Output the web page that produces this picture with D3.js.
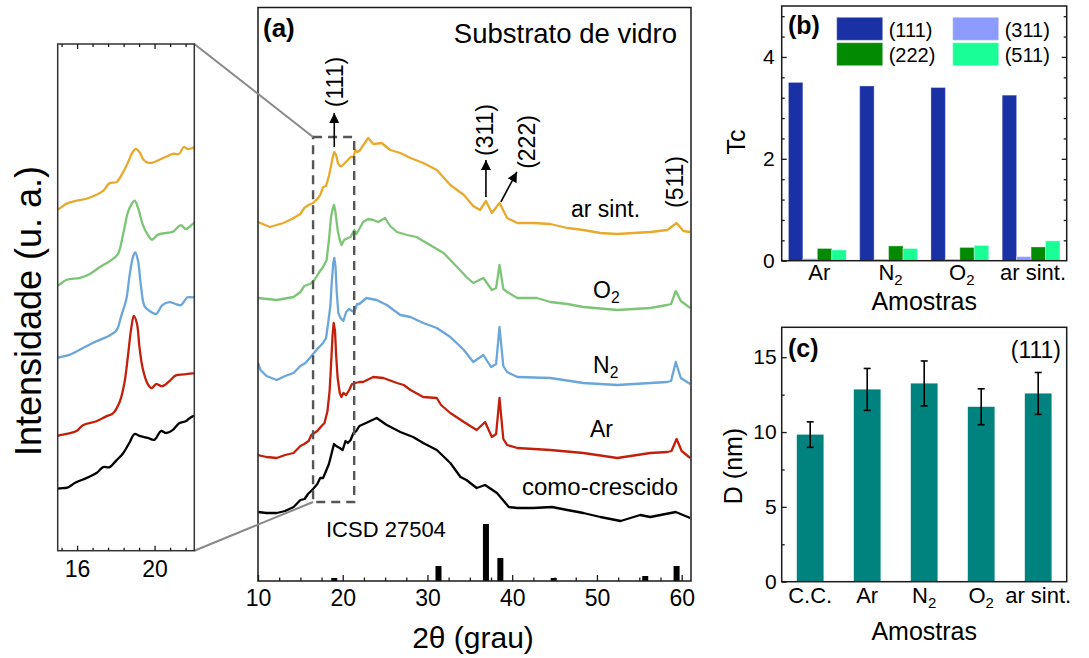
<!DOCTYPE html>
<html>
<head>
<meta charset="utf-8">
<script src="https://cdn.jsdelivr.net/npm/d3@7"></script>
<style>
  body { margin: 0; background: #fff; }
  svg text { font-family: "Liberation Sans", Arial, Helvetica, sans-serif; fill: #000; }
</style>
</head>
<body>
<svg id="fig" width="1089" height="658"></svg>
<script>
// ---------------------------------------------------------------
// XRD patterns: [2θ (deg), intensity (a.u.)], curves offset vertically
// ---------------------------------------------------------------
const xrdComoCrescido = [[10.0,69],[11.0,68],[12.2,68],[13.2,70],[14.2,74],[15.0,81],[15.5,82],[15.9,87],[16.5,92],[17.0,97],[17.34,103],[17.68,103],[18.03,110],[18.37,117],[18.7,128],[18.97,137],[19.22,135],[19.65,133],[19.99,131],[20.33,140],[20.6,138],[20.93,141],[21.27,148],[21.6,150],[21.96,155],[23.0,159],[24.0,163],[25.2,156],[26.8,149],[28.3,144],[29.5,138],[31.1,131],[32.7,118],[33.9,104],[34.6,101],[35.8,93],[36.8,96],[38.2,88],[39.6,74],[40.6,73],[42.5,73],[44.7,74],[46.5,71],[48.4,68],[50.4,64],[52.8,60],[55.1,66],[56.3,64],[59.3,69],[61.0,63]];

const xrdAr = [[10.0,126],[11.0,124],[12.2,123],[13.2,126],[14.2,128],[15.0,135],[15.46,137],[15.97,140],[16.3,146],[17.0,150],[17.5,155],[17.85,158],[18.2,170],[18.45,190],[18.62,216],[18.8,246],[18.93,258],[19.09,250],[19.22,226],[19.4,203],[19.65,188],[19.85,184],[20.08,188],[20.4,186],[20.76,191],[21.1,197],[21.5,198],[21.96,199],[22.4,199],[23.6,204],[24.8,203],[26.4,198],[27.2,196],[28.0,191],[29.5,184],[31.1,183],[31.6,176],[32.7,168],[34.3,159],[35.8,151],[36.8,159],[37.6,144],[38.1,147],[38.5,183],[38.95,142],[39.4,136],[40.6,133],[44.5,131],[48.4,128],[52.4,123],[56.3,128],[58.3,129],[58.8,130],[59.4,142],[60.0,130],[61.0,123]];

const xrdN2 = [[10.0,218],[10.3,211],[11.0,205],[12.2,201],[13.2,205],[14.2,208],[15.0,215],[15.6,218],[16.3,225],[17.0,232],[17.68,238],[18.03,243],[18.28,258],[18.54,275],[18.7,298],[18.88,318],[19.0,323],[19.14,315],[19.3,288],[19.48,268],[19.74,263],[20.08,260],[20.4,269],[20.76,272],[21.1,270],[21.36,269],[21.7,277],[21.96,277],[22.8,283],[24.0,281],[25.2,276],[26.8,266],[28.0,264],[29.5,258],[31.1,253],[32.7,244],[34.3,231],[35.4,219],[36.6,226],[37.5,214],[38.1,217],[38.5,254],[38.95,215],[39.4,209],[40.6,204],[44.5,203],[48.4,198],[52.4,196],[56.3,198],[58.3,199],[58.75,200],[59.3,219],[59.9,203],[61.0,197]];

const xrdO2 = [[10.0,283],[12.2,281],[14.2,284],[15.0,289],[15.46,295],[16.15,297],[16.66,301],[17.17,308],[17.68,314],[18.1,321],[18.37,341],[18.62,364],[18.8,372],[18.97,376],[19.14,369],[19.4,351],[19.65,341],[19.87,336],[20.16,341],[20.6,343],[20.93,344],[21.36,351],[21.6,347],[21.96,352],[22.4,359],[23.0,362],[23.6,361],[24.2,359],[25.0,363],[25.6,355],[26.4,349],[27.6,346],[28.7,344],[30.3,336],[31.9,328],[33.5,314],[34.6,304],[35.4,298],[36.6,303],[37.6,291],[38.1,293],[38.5,316],[38.95,292],[39.4,289],[40.6,283],[42.9,283],[44.5,279],[46.5,277],[48.4,274],[52.4,271],[56.3,273],[58.3,276],[58.75,277],[59.3,290],[59.9,280],[61.0,273]];

const xrdArSint = [[10.0,359],[11.4,354],[13.0,358],[14.0,362],[15.0,367],[15.46,373],[15.97,376],[16.49,378],[17.0,382],[17.34,386],[17.68,394],[18.03,395],[18.37,405],[18.62,415],[18.85,425],[19.02,429],[19.22,426],[19.43,418],[19.65,415],[19.9,415],[20.25,418],[20.6,421],[20.93,424],[21.27,424],[21.5,431],[21.7,429],[21.96,430],[23.0,443],[23.6,437],[24.6,438],[25.6,431],[26.8,428],[28.0,423],[29.5,418],[31.1,411],[32.7,396],[34.3,386],[35.4,375],[36.2,371],[36.9,380],[37.6,368],[38.5,378],[39.4,363],[40.6,358],[42.5,358],[44.5,357],[46.5,353],[48.4,351],[50.4,348],[52.4,347],[54.3,348],[56.3,349],[58.3,351],[59.4,358],[60.2,350],[61.0,349]];

const xrdNames  = ["como-crescido", "Ar", "N2", "O2", "ar sint."];
const xrdColors = ["#000000", "#C3200C", "#6AA6DA", "#7DC576", "#E9A92C"];

// Reference pattern ICSD 27504
const icsdAngles    = [19.0, 31.3, 36.9, 38.6, 44.9, 55.7, 59.4];
const icsdIntensity = [3, 15, 57, 23, 3, 5, 15];

// Miller indices marked on the patterns
const peakLabels = ["(111)", "(311)", "(222)", "(511)"];

// ---------------------------------------------------------------
// Texture coefficient Tc per plane
// ---------------------------------------------------------------
const tcSamples = ["Ar", "N2", "O2", "ar sint."];
const tcPlanes  = ["(111)", "(311)", "(222)", "(511)"];
const tc111 = [3.50, 3.43, 3.40, 3.25];
const tc311 = [0.04, 0.03, 0.03, 0.08];
const tc222 = [0.24, 0.29, 0.26, 0.27];
const tc511 = [0.21, 0.24, 0.30, 0.39];
const tcColors = ["#1A31A5", "#8D9BFF", "#038A03", "#19FF96"];

// ---------------------------------------------------------------
// Crystallite size D (nm) from the (111) reflection
// ---------------------------------------------------------------
const dSamples = ["C.C.", "Ar", "N2", "O2", "ar sint."];
const dValues  = [9.83, 12.85, 13.25, 11.69, 12.58];
const dErrors  = [0.85, 1.40, 1.50, 1.20, 1.40];

// ---------------------------------------------------------------
const svg = d3.select("#fig");
const INK = "#1a1a1a";

// helper: text with a trailing digit rendered as subscript (N2 -> N₂)
function labelWithSub(sel, s, fs) {
  const m = s.match(/^([A-Za-z]+)(\d)$/);
  if (m) {
    sel.append("tspan").text(m[1]);
    sel.append("tspan").attr("font-size", fs * 0.68).attr("dy", fs * 0.22).text(m[2]);
  } else {
    sel.text(s);
  }
}

function styleAxis(g, fs) {
  g.select(".domain").remove();
  g.selectAll(".tick line").attr("stroke", INK).attr("stroke-width", 1.3);
  g.selectAll(".tick text").attr("font-size", fs).attr("fill", "#000");
}

// ================= panel (a): main patterns =================
const A = { left: 258, right: 691, top: 7.5, bottom: 581 };
const xA = d3.scaleLinear().domain([10, 61.1]).range([A.left, A.right]);
const yA = d3.scaleLinear().domain([0, 573]).range([A.bottom, A.bottom - 573]);

const defs = svg.append("defs");
defs.append("clipPath").attr("id", "clipA").append("rect")
  .attr("x", A.left).attr("y", A.top).attr("width", A.right - A.left).attr("height", A.bottom - A.top);
defs.append("marker").attr("id", "arrow").attr("viewBox", "0 0 10 10")
  .attr("refX", 10).attr("refY", 5).attr("markerWidth", 10).attr("markerHeight", 11)
  .attr("markerUnits", "userSpaceOnUse").attr("orient", "auto")
  .append("path").attr("d", "M0,0 L10,5 L0,10 Z").attr("fill", "#000");

const xrdData = [xrdComoCrescido, xrdAr, xrdN2, xrdO2, xrdArSint];

const lineA = d3.line().x(d => xA(d[0])).y(d => yA(d[1]));
const gA = svg.append("g").attr("clip-path", "url(#clipA)");
xrdData.forEach((data, i) => {
  gA.append("path").datum(data).attr("d", lineA)
    .attr("fill", "none").attr("stroke", xrdColors[i]).attr("stroke-width", 2.3)
    .attr("stroke-linejoin", "round");
});

// ICSD reference sticks
gA.selectAll("rect.icsd").data(icsdAngles).join("rect").attr("class", "icsd")
  .attr("x", d => xA(d) - 3).attr("width", 6)
  .attr("y", (d, i) => yA(icsdIntensity[i]))
  .attr("height", (d, i) => yA(0) - yA(icsdIntensity[i]))
  .attr("fill", "#000");

// zoom region box and connectors to the inset
const zoomBox = { x0: 16.5, x1: 21.35, y0: 79, y1: 444 };
svg.append("rect")
  .attr("x", xA(zoomBox.x0)).attr("y", yA(zoomBox.y1))
  .attr("width", xA(zoomBox.x1) - xA(zoomBox.x0)).attr("height", yA(zoomBox.y0) - yA(zoomBox.y1))
  .attr("fill", "none").attr("stroke", "#555").attr("stroke-width", 2.4).attr("stroke-dasharray", "9,6");

// frame
svg.append("rect").attr("x", A.left).attr("y", A.top).attr("width", A.right - A.left).attr("height", A.bottom - A.top)
  .attr("fill", "none").attr("stroke", INK).attr("stroke-width", 1.5);

// x axis (ticks inward)
const gAx = svg.append("g").attr("transform", `translate(0,${A.bottom})`)
  .call(d3.axisBottom(xA).tickValues([10, 20, 30, 40, 50, 60]).tickSize(-6).tickPadding(9).tickFormat(d3.format("d")));
styleAxis(gAx, 23);
const gAxm = svg.append("g").attr("transform", `translate(0,${A.bottom})`)
  .call(d3.axisBottom(xA).tickValues(d3.range(12.5, 61, 2.5).filter(v => v % 10 !== 0)).tickSize(-3.5).tickFormat(""));
styleAxis(gAxm, 10);

svg.append("text").attr("x", 473).attr("y", 648).attr("text-anchor", "middle")
  .attr("font-size", 30).text("2θ (grau)");

// annotations
svg.append("text").attr("x", 263).attr("y", 37).attr("font-size", 26).attr("font-weight", "bold").text("(a)");
svg.append("text").attr("x", 677).attr("y", 43).attr("text-anchor", "end").attr("font-size", 27.5).text("Substrato de vidro");

const curveLabels = [
  { text: "como-crescido", x: 678, y: 495, anchor: "end", fs: 24 },
  { text: "Ar", x: 590, y: 437, anchor: "start", fs: 23 },
  { text: "N2", x: 593, y: 373, anchor: "start", fs: 23 },
  { text: "O2", x: 593, y: 298, anchor: "start", fs: 23 },
  { text: "ar sint.", x: 571, y: 217, anchor: "start", fs: 23 }
];
curveLabels.forEach(c => {
  const t = svg.append("text").attr("x", c.x).attr("y", c.y).attr("text-anchor", c.anchor).attr("font-size", c.fs);
  labelWithSub(t, c.text, c.fs);
});
svg.append("text").attr("x", 326).attr("y", 537).attr("font-size", 22).text("ICSD 27504");

// peak arrows and rotated Miller indices
const arrows = [
  { x0: 19.0, y0: 434, x1: 19.0, y1: 468 },
  { x0: 36.9, y0: 384, x1: 36.9, y1: 421 },
  { x0: 38.66, y0: 379, x1: 40.55, y1: 409 }
];
arrows.forEach(a => {
  svg.append("line").attr("x1", xA(a.x0)).attr("y1", yA(a.y0)).attr("x2", xA(a.x1)).attr("y2", yA(a.y1))
    .attr("stroke", "#000").attr("stroke-width", 1.6).attr("marker-end", "url(#arrow)");
});
const peakLabelPos = [[19.0, 499], [36.8, 451], [41.75, 439], [59.2, 399]];
peakLabels.forEach((p, i) => {
  svg.append("text")
    .attr("transform", `translate(${xA(peakLabelPos[i][0])},${yA(peakLabelPos[i][1])}) rotate(-90)`)
    .attr("text-anchor", "middle").attr("dy", "0.36em").attr("font-size", 23).text(p);
});

// ================= inset: zoom on (111) =================
const I = { left: 57.7, right: 194.3, top: 44, bottom: 550.7 };
const xI = d3.scaleLinear().domain([15, 22.05]).range([I.left, I.right]);
const yI = d3.scaleLinear().domain([0, 573]).range([567.7, 8.4]);
defs.append("clipPath").attr("id", "clipI").append("rect")
  .attr("x", I.left).attr("y", I.top).attr("width", I.right - I.left).attr("height", I.bottom - I.top);

// connectors
svg.append("line").attr("x1", I.right).attr("y1", I.top).attr("x2", xA(zoomBox.x0)).attr("y2", yA(zoomBox.y1))
  .attr("stroke", "#888").attr("stroke-width", 2);
svg.append("line").attr("x1", I.right).attr("y1", I.bottom).attr("x2", xA(zoomBox.x0)).attr("y2", yA(zoomBox.y0))
  .attr("stroke", "#888").attr("stroke-width", 2);

const lineI = d3.line().curve(d3.curveCatmullRom.alpha(0.5)).x(d => xI(d[0])).y(d => yI(d[1]));
const gI = svg.append("g").attr("clip-path", "url(#clipI)");
xrdData.forEach((data, i) => {
  gI.append("path").datum(data.filter(d => d[0] >= 14 && d[0] <= 23.1)).attr("d", lineI)
    .attr("fill", "none").attr("stroke", xrdColors[i]).attr("stroke-width", 2.3)
    .attr("stroke-linejoin", "round");
});

svg.append("rect").attr("x", I.left).attr("y", I.top).attr("width", I.right - I.left).attr("height", I.bottom - I.top)
  .attr("fill", "none").attr("stroke", "#333").attr("stroke-width", 1.5);

const insetMinor = [15.2, 16.8, 17.6, 18.4, 19.2, 20.8, 21.6];
const gIx = svg.append("g").attr("transform", `translate(0,${I.bottom})`)
  .call(d3.axisBottom(xI).tickValues([16, 20]).tickSize(-5).tickPadding(9.5).tickFormat(d3.format("d")));
styleAxis(gIx, 23);
const gIxm = svg.append("g").attr("transform", `translate(0,${I.bottom})`)
  .call(d3.axisBottom(xI).tickValues(insetMinor).tickSize(-3).tickFormat(""));
styleAxis(gIxm, 10);
const gIt = svg.append("g").attr("transform", `translate(0,${I.top})`)
  .call(d3.axisTop(xI).tickValues([16, 20]).tickSize(-5).tickFormat(""));
styleAxis(gIt, 10);
const gItm = svg.append("g").attr("transform", `translate(0,${I.top})`)
  .call(d3.axisTop(xI).tickValues(insetMinor).tickSize(-3).tickFormat(""));
styleAxis(gItm, 10);

svg.append("text").attr("transform", "translate(41,311) rotate(-90)")
  .attr("text-anchor", "middle").attr("font-size", 36).text("Intensidade (u. a.)");

// ================= panel (b): texture coefficient =================
const B = { left: 781.7, right: 1066.7, top: 6, bottom: 260.7 };
const xB = d3.scaleBand().domain(tcSamples).range([B.left, B.right]);
const xBin = d3.scaleBand().domain(tcPlanes).range([-28.9, 28.9]);
const yB = d3.scaleLinear().domain([0, 5]).range([B.bottom, B.top]);
const tcValues = [tc111, tc311, tc222, tc511];

const gB = svg.append("g");
tcPlanes.forEach((p, j) => {
  gB.selectAll(null).data(tcSamples).join("rect")
    .attr("x", s => xB(s) + xB.bandwidth() / 2 + xBin(p))
    .attr("width", xBin.bandwidth())
    .attr("y", (s, i) => yB(tcValues[j][i]))
    .attr("height", (s, i) => yB(0) - yB(tcValues[j][i]))
    .attr("fill", tcColors[j]).attr("stroke", "#ffffff").attr("stroke-opacity", 0.35).attr("stroke-width", 1);
});

svg.append("rect").attr("x", B.left).attr("y", B.top).attr("width", B.right - B.left).attr("height", B.bottom - B.top)
  .attr("fill", "none").attr("stroke", INK).attr("stroke-width", 1.5);

const bMinor = d3.range(0.4, 5.0, 0.4).map(v => +v.toFixed(1)).filter(v => Math.abs(v - 2) > 0.01 && Math.abs(v - 4) > 0.01);
const gBy = svg.append("g").attr("transform", `translate(${B.left},0)`)
  .call(d3.axisLeft(yB).tickValues([0, 2, 4]).tickSize(-5).tickPadding(7).tickFormat(d3.format("d")));
styleAxis(gBy, 21);
const gBym = svg.append("g").attr("transform", `translate(${B.left},0)`)
  .call(d3.axisLeft(yB).tickValues(bMinor).tickSize(-3).tickFormat(""));
styleAxis(gBym, 10);
const gByr = svg.append("g").attr("transform", `translate(${B.right},0)`)
  .call(d3.axisRight(yB).tickValues([2, 4]).tickSize(-5).tickFormat(""));
styleAxis(gByr, 10);
const gByrm = svg.append("g").attr("transform", `translate(${B.right},0)`)
  .call(d3.axisRight(yB).tickValues(bMinor).tickSize(-3).tickFormat(""));
styleAxis(gByrm, 10);

tcSamples.forEach(s => {
  const t = svg.append("text").attr("x", xB(s) + xB.bandwidth() / 2 + 2).attr("y", 280)
    .attr("text-anchor", "middle").attr("font-size", 22);
  labelWithSub(t, s, 22);
});
svg.append("text").attr("x", (B.left + B.right) / 2).attr("y", 310).attr("text-anchor", "middle")
  .attr("font-size", 25).text("Amostras");
svg.append("text").attr("transform", "translate(745,142) rotate(-90)").attr("text-anchor", "middle")
  .attr("font-size", 25).text("Tc");
svg.append("text").attr("x", 788).attr("y", 34).attr("font-size", 25).attr("font-weight", "bold").text("(b)");

// legend, two columns
const legendPos = [[836.7, 17.3], [952.7, 17.3], [836.7, 42.7], [952.7, 42.7]];
tcPlanes.forEach((p, j) => {
  svg.append("rect").attr("x", legendPos[j][0]).attr("y", legendPos[j][1]).attr("width", 46).attr("height", 23)
    .attr("fill", tcColors[j]).attr("stroke", "#ffffff").attr("stroke-opacity", 0.35);
  svg.append("text").attr("x", legendPos[j][0] + 52).attr("y", legendPos[j][1] + 19.3)
    .attr("font-size", 20).text(p);
});

// ================= panel (c): crystallite size =================
const C = { left: 781.7, right: 1066.7, top: 327.3, bottom: 581.7 };
const xC = d3.scaleBand().domain(dSamples).range([C.left, C.right]).paddingInner(0.53).paddingOuter(0.265);
const yC = d3.scaleLinear().domain([0, 17]).range([C.bottom, C.top]);

svg.append("g").selectAll("rect").data(dSamples).join("rect")
  .attr("x", s => xC(s)).attr("width", xC.bandwidth())
  .attr("y", (s, i) => yC(dValues[i])).attr("height", (s, i) => yC(0) - yC(dValues[i]))
  .attr("fill", "#00827F");

const gErr = svg.append("g").attr("stroke", "#000").attr("stroke-width", 1.6);
dSamples.forEach((s, i) => {
  const cx = xC(s) + xC.bandwidth() / 2;
  const hi = yC(dValues[i] + dErrors[i]), lo = yC(dValues[i] - dErrors[i]);
  gErr.append("line").attr("x1", cx).attr("x2", cx).attr("y1", hi).attr("y2", lo);
  gErr.append("line").attr("x1", cx - 3.5).attr("x2", cx + 3.5).attr("y1", hi).attr("y2", hi);
  gErr.append("line").attr("x1", cx - 3.5).attr("x2", cx + 3.5).attr("y1", lo).attr("y2", lo);
});

svg.append("rect").attr("x", C.left).attr("y", C.top).attr("width", C.right - C.left).attr("height", C.bottom - C.top)
  .attr("fill", "none").attr("stroke", INK).attr("stroke-width", 1.5);

const gCy = svg.append("g").attr("transform", `translate(${C.left},0)`)
  .call(d3.axisLeft(yC).tickValues([0, 5, 10, 15]).tickSize(-5).tickPadding(5).tickFormat(d3.format("d")));
styleAxis(gCy, 21);
const gCym = svg.append("g").attr("transform", `translate(${C.left},0)`)
  .call(d3.axisLeft(yC).tickValues([2.5, 7.5, 12.5]).tickSize(-3).tickFormat(""));
styleAxis(gCym, 10);

dSamples.forEach(s => {
  const t = svg.append("text").attr("x", xC(s) + xC.bandwidth() / 2).attr("y", 603)
    .attr("text-anchor", "middle").attr("font-size", 22);
  labelWithSub(t, s, 22);
});
svg.append("text").attr("x", (C.left + C.right) / 2).attr("y", 640).attr("text-anchor", "middle")
  .attr("font-size", 25).text("Amostras");
svg.append("text").attr("transform", "translate(742,466) rotate(-90)").attr("text-anchor", "middle")
  .attr("font-size", 25).text("D (nm)");
svg.append("text").attr("x", 788).attr("y", 357).attr("font-size", 25).attr("font-weight", "bold").text("(c)");
svg.append("text").attr("x", 1061).attr("y", 358).attr("text-anchor", "end").attr("font-size", 23).text("(111)");
</script>
</body>
</html>
